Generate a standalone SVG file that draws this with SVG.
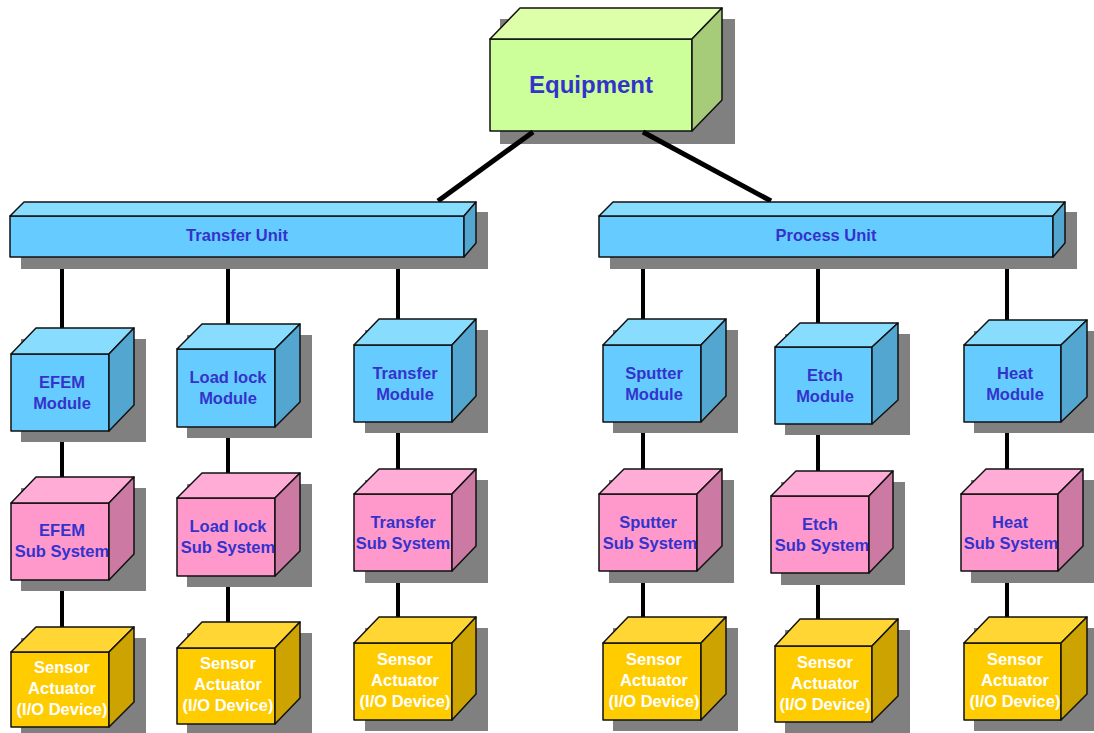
<svg xmlns="http://www.w3.org/2000/svg" width="1094" height="733" viewBox="0 0 1094 733">
  <style>
    .shadow { fill: #808080; }
    .face { stroke: #111; stroke-width: 1.5; stroke-linejoin: round; }
    .eq-front { fill: #CCFF99; } .eq-top { fill: #DDFFAA; } .eq-side { fill: #A6CC7A; }
    .bl-front { fill: #66CCFF; } .bl-top { fill: #88DDFF; } .bl-side { fill: #52A6CF; }
    .pk-front { fill: #FF99CC; } .pk-top { fill: #FFADD6; } .pk-side { fill: #CC7AA3; }
    .yl-front { fill: #FFCC00; } .yl-top { fill: #FFD633; } .yl-side { fill: #CCA300; }
    .lbl { font-family: "Liberation Sans", Arial, sans-serif; font-weight: bold; font-size: 16.5px; text-anchor: middle; fill: #3333CC; }
    .lbl-w { fill: #FFFFFF; }
    .big { font-size: 24px; }
    .link { stroke: #000; stroke-width: 4; fill: none; }
    .link-d { stroke: #000; stroke-width: 5; fill: none; }
  </style>

  <!-- top level -->
  <g id="equipment">
    <rect class="shadow" x="500" y="19" width="235" height="125"/>
    <rect class="face eq-front" x="490" y="39" width="202" height="92"/>
    <polygon class="face eq-top" points="490,39 520,8 722,8 692,39"/>
    <polygon class="face eq-side" points="692,39 722,8 722,100 692,131"/>
    <text class="lbl big" x="591" y="93">Equipment</text>
  </g>

  <!-- connectors: above the Equipment shadow, below every other box -->
  <g id="connectors">
    <line class="link-d" x1="533" y1="132" x2="438" y2="201"/>
    <line class="link-d" x1="643" y1="132" x2="771" y2="201"/>
    <!-- Transfer Unit columns -->
    <line class="link" x1="62" y1="257" x2="62" y2="334"/>
    <line class="link" x1="62" y1="431" x2="62" y2="483"/>
    <line class="link" x1="62" y1="580" x2="62" y2="632"/>
    <line class="link" x1="228" y1="257" x2="228" y2="330"/>
    <line class="link" x1="228" y1="427" x2="228" y2="478"/>
    <line class="link" x1="228" y1="576" x2="228" y2="628"/>
    <line class="link" x1="398" y1="257" x2="398" y2="325"/>
    <line class="link" x1="398" y1="422" x2="398" y2="474"/>
    <line class="link" x1="398" y1="571" x2="398" y2="623"/>
    <!-- Process Unit columns -->
    <line class="link" x1="643" y1="257" x2="643" y2="325"/>
    <line class="link" x1="643" y1="422" x2="643" y2="474"/>
    <line class="link" x1="643" y1="571" x2="643" y2="623"/>
    <line class="link" x1="818" y1="257" x2="818" y2="327"/>
    <line class="link" x1="818" y1="424" x2="818" y2="476"/>
    <line class="link" x1="818" y1="573" x2="818" y2="626"/>
    <line class="link" x1="1007" y1="257" x2="1007" y2="325"/>
    <line class="link" x1="1007" y1="422" x2="1007" y2="474"/>
    <line class="link" x1="1007" y1="571" x2="1007" y2="623"/>
  </g>

  <!-- units -->
  <g id="transfer-unit">
    <rect class="shadow" x="21" y="212" width="467" height="57"/>
    <rect class="face bl-front" x="10" y="216" width="454" height="41"/>
    <polygon class="face bl-top" points="10,216 24,202 476,202 464,216"/>
    <polygon class="face bl-side" points="464,216 476,202 476,243 464,257"/>
    <text class="lbl" x="237" y="241">Transfer Unit</text>
  </g>
  <g id="process-unit">
    <rect class="shadow" x="610" y="212" width="467" height="57"/>
    <rect class="face bl-front" x="599" y="216" width="454" height="41"/>
    <polygon class="face bl-top" points="599,216 613,202 1065,202 1053,216"/>
    <polygon class="face bl-side" points="1053,216 1065,202 1065,243 1053,257"/>
    <text class="lbl" x="826" y="241">Process Unit</text>
  </g>

  <!-- modules -->
  <g id="efem-module">
    <rect class="shadow" x="21" y="339" width="125" height="103"/>
    <rect class="face bl-front" x="11" y="354" width="98" height="77"/>
    <polygon class="face bl-top" points="11,354 36,328 134,328 109,354"/>
    <polygon class="face bl-side" points="109,354 134,328 134,405 109,431"/>
    <text class="lbl" x="62" y="388">EFEM</text>
    <text class="lbl" x="62" y="409">Module</text>
  </g>
  <g id="loadlock-module">
    <rect class="shadow" x="187" y="335" width="125" height="103"/>
    <rect class="face bl-front" x="177" y="349" width="98" height="78"/>
    <polygon class="face bl-top" points="177,349 202,324 300,324 275,349"/>
    <polygon class="face bl-side" points="275,349 300,324 300,402 275,427"/>
    <text class="lbl" x="228" y="383">Load lock</text>
    <text class="lbl" x="228" y="404">Module</text>
  </g>
  <g id="transfer-module">
    <rect class="shadow" x="365" y="330" width="123" height="103"/>
    <rect class="face bl-front" x="354" y="345" width="98" height="77"/>
    <polygon class="face bl-top" points="354,345 379,319 476,319 452,345"/>
    <polygon class="face bl-side" points="452,345 476,319 476,396 452,422"/>
    <text class="lbl" x="405" y="379">Transfer</text>
    <text class="lbl" x="405" y="400">Module</text>
  </g>
  <g id="sputter-module">
    <rect class="shadow" x="613" y="330" width="125" height="103"/>
    <rect class="face bl-front" x="603" y="345" width="98" height="77"/>
    <polygon class="face bl-top" points="603,345 628,319 726,319 701,345"/>
    <polygon class="face bl-side" points="701,345 726,319 726,396 701,422"/>
    <text class="lbl" x="654" y="379">Sputter</text>
    <text class="lbl" x="654" y="400">Module</text>
  </g>
  <g id="etch-module">
    <rect class="shadow" x="785" y="334" width="125" height="101"/>
    <rect class="face bl-front" x="775" y="347" width="97" height="77"/>
    <polygon class="face bl-top" points="775,347 800,323 898,323 872,347"/>
    <polygon class="face bl-side" points="872,347 898,323 898,400 872,424"/>
    <text class="lbl" x="825" y="381">Etch</text>
    <text class="lbl" x="825" y="402">Module</text>
  </g>
  <g id="heat-module">
    <rect class="shadow" x="974" y="331" width="125" height="102"/>
    <rect class="face bl-front" x="964" y="345" width="97" height="77"/>
    <polygon class="face bl-top" points="964,345 989,320 1087,320 1061,345"/>
    <polygon class="face bl-side" points="1061,345 1087,320 1087,397 1061,422"/>
    <text class="lbl" x="1015" y="379">Heat</text>
    <text class="lbl" x="1015" y="400">Module</text>
  </g>

  <!-- sub systems -->
  <g id="efem-subsystem">
    <rect class="shadow" x="21" y="488" width="125" height="103"/>
    <rect class="face pk-front" x="11" y="503" width="98" height="77"/>
    <polygon class="face pk-top" points="11,503 36,477 134,477 109,503"/>
    <polygon class="face pk-side" points="109,503 134,477 134,554 109,580"/>
    <text class="lbl" x="62" y="536">EFEM</text>
    <text class="lbl" x="62" y="557">Sub System</text>
  </g>
  <g id="loadlock-subsystem">
    <rect class="shadow" x="187" y="484" width="125" height="103"/>
    <rect class="face pk-front" x="177" y="498" width="98" height="78"/>
    <polygon class="face pk-top" points="177,498 202,473 300,473 275,498"/>
    <polygon class="face pk-side" points="275,498 300,473 300,551 275,576"/>
    <text class="lbl" x="228" y="532">Load lock</text>
    <text class="lbl" x="228" y="553">Sub System</text>
  </g>
  <g id="transfer-subsystem">
    <rect class="shadow" x="365" y="480" width="123" height="103"/>
    <rect class="face pk-front" x="354" y="494" width="98" height="77"/>
    <polygon class="face pk-top" points="354,494 379,469 476,469 452,494"/>
    <polygon class="face pk-side" points="452,494 476,469 476,546 452,571"/>
    <text class="lbl" x="403" y="528">Transfer</text>
    <text class="lbl" x="403" y="549">Sub System</text>
  </g>
  <g id="sputter-subsystem">
    <rect class="shadow" x="609" y="480" width="125" height="103"/>
    <rect class="face pk-front" x="599" y="494" width="98" height="77"/>
    <polygon class="face pk-top" points="599,494 624,469 722,469 697,494"/>
    <polygon class="face pk-side" points="697,494 722,469 722,546 697,571"/>
    <text class="lbl" x="648" y="528">Sputter</text>
    <text class="lbl" x="650" y="549">Sub System</text>
  </g>
  <g id="etch-subsystem">
    <rect class="shadow" x="781" y="482" width="124" height="103"/>
    <rect class="face pk-front" x="771" y="496" width="98" height="77"/>
    <polygon class="face pk-top" points="771,496 796,471 893,471 869,496"/>
    <polygon class="face pk-side" points="869,496 893,471 893,548 869,573"/>
    <text class="lbl" x="820" y="530">Etch</text>
    <text class="lbl" x="822" y="551">Sub System</text>
  </g>
  <g id="heat-subsystem">
    <rect class="shadow" x="971" y="480" width="124" height="103"/>
    <rect class="face pk-front" x="961" y="494" width="97" height="77"/>
    <polygon class="face pk-top" points="961,494 986,469 1083,469 1058,494"/>
    <polygon class="face pk-side" points="1058,494 1083,469 1083,546 1058,571"/>
    <text class="lbl" x="1010" y="528">Heat</text>
    <text class="lbl" x="1011" y="549">Sub System</text>
  </g>

  <!-- I/O devices -->
  <g id="efem-io">
    <rect class="shadow" x="21" y="638" width="125" height="100"/>
    <rect class="face yl-front" x="11" y="652" width="98" height="75"/>
    <polygon class="face yl-top" points="11,652 36,627 134,627 109,652"/>
    <polygon class="face yl-side" points="109,652 134,627 134,702 109,727"/>
    <text class="lbl lbl-w" x="62" y="673">Sensor</text>
    <text class="lbl lbl-w" x="62" y="694">Actuator</text>
    <text class="lbl lbl-w" x="62" y="715">(I/O Device)</text>
  </g>
  <g id="loadlock-io">
    <rect class="shadow" x="187" y="633" width="125" height="102"/>
    <rect class="face yl-front" x="177" y="648" width="98" height="76"/>
    <polygon class="face yl-top" points="177,648 202,622 300,622 275,648"/>
    <polygon class="face yl-side" points="275,648 300,622 300,698 275,724"/>
    <text class="lbl lbl-w" x="228" y="669">Sensor</text>
    <text class="lbl lbl-w" x="228" y="690">Actuator</text>
    <text class="lbl lbl-w" x="228" y="711">(I/O Device)</text>
  </g>
  <g id="transfer-io">
    <rect class="shadow" x="365" y="628" width="123" height="103"/>
    <rect class="face yl-front" x="354" y="643" width="98" height="77"/>
    <polygon class="face yl-top" points="354,643 379,617 476,617 452,643"/>
    <polygon class="face yl-side" points="452,643 476,617 476,694 452,720"/>
    <text class="lbl lbl-w" x="405" y="665">Sensor</text>
    <text class="lbl lbl-w" x="405" y="686">Actuator</text>
    <text class="lbl lbl-w" x="405" y="707">(I/O Device)</text>
  </g>
  <g id="sputter-io">
    <rect class="shadow" x="613" y="628" width="125" height="103"/>
    <rect class="face yl-front" x="603" y="643" width="98" height="77"/>
    <polygon class="face yl-top" points="603,643 628,617 726,617 701,643"/>
    <polygon class="face yl-side" points="701,643 726,617 726,694 701,720"/>
    <text class="lbl lbl-w" x="654" y="665">Sensor</text>
    <text class="lbl lbl-w" x="654" y="686">Actuator</text>
    <text class="lbl lbl-w" x="654" y="707">(I/O Device)</text>
  </g>
  <g id="etch-io">
    <rect class="shadow" x="785" y="630" width="125" height="103"/>
    <rect class="face yl-front" x="775" y="646" width="97" height="76"/>
    <polygon class="face yl-top" points="775,646 800,619 898,619 872,646"/>
    <polygon class="face yl-side" points="872,646 898,619 898,696 872,722"/>
    <text class="lbl lbl-w" x="825" y="668">Sensor</text>
    <text class="lbl lbl-w" x="825" y="689">Actuator</text>
    <text class="lbl lbl-w" x="825" y="710">(I/O Device)</text>
  </g>
  <g id="heat-io">
    <rect class="shadow" x="974" y="628" width="125" height="103"/>
    <rect class="face yl-front" x="964" y="643" width="97" height="77"/>
    <polygon class="face yl-top" points="964,643 989,617 1087,617 1061,643"/>
    <polygon class="face yl-side" points="1061,643 1087,617 1087,694 1061,720"/>
    <text class="lbl lbl-w" x="1015" y="665">Sensor</text>
    <text class="lbl lbl-w" x="1015" y="686">Actuator</text>
    <text class="lbl lbl-w" x="1015" y="707">(I/O Device)</text>
  </g>
</svg>
